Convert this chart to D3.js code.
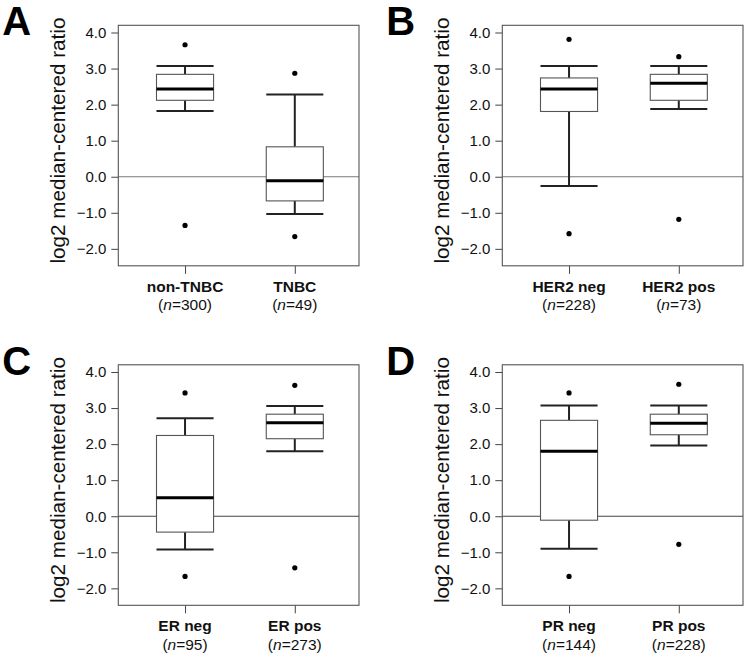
<!DOCTYPE html>
<html>
<head>
<meta charset="utf-8">
<script src="https://cdn.jsdelivr.net/npm/d3@7"></script>
<style>
  html, body { margin: 0; padding: 0; background: #fff; }
  svg { display: block; }
  text { font-family: "Liberation Sans", Arial, sans-serif; }
</style>
</head>
<body>
<div id="chart"></div>
<script>
// ---- data ----
const panelLetters = ["A", "B", "C", "D"];
const categories = [
  ["non-TNBC", "TNBC"],
  ["HER2 neg", "HER2 pos"],
  ["ER neg", "ER pos"],
  ["PR neg", "PR pos"]
];
const sampleSizes = [[300, 49], [228, 73], [95, 273], [144, 228]];
const upperOutlier = [[3.66, 2.87], [3.81, 3.33], [3.42, 3.63], [3.42, 3.66]];
const upperWhisker = [[3.07, 2.28], [3.07, 3.07], [2.72, 3.06], [3.07, 3.07]];
const q3Values     = [[2.84, 0.83], [2.74, 2.84], [2.24, 2.83], [2.66, 2.83]];
const medianValues = [[2.43, -0.11], [2.43, 2.59], [0.51, 2.59], [1.80, 2.58]];
const q1Values     = [[2.12, -0.67], [1.81, 2.12], [-0.44, 2.15], [-0.11, 2.26]];
const lowerWhisker = [[1.82, -1.03], [-0.26, 1.88], [-0.92, 1.80], [-0.90, 1.96]];
const lowerOutlier = [[-1.35, -1.66], [-1.58, -1.18], [-1.67, -1.43], [-1.67, -0.78]];
const yTicks = [-2, -1, 0, 1, 2, 3, 4];
const yLabel = "log2 median-centered ratio";

// ---- layout ----
const W = 747, H = 657;
const plotW = 240.7, plotH = 240.5;
const origins = [[118.3, 25.3], [502.3, 25.3], [118.3, 364.8], [502.3, 364.8]];
const zeroColor = ["#777", "#777", "#444", "#444"];

const svg = d3.select("#chart").append("svg")
  .attr("width", W).attr("height", H)
  .attr("viewBox", `0 0 ${W} ${H}`);
svg.append("rect").attr("width", W).attr("height", H).attr("fill", "#fff");

const y = d3.scaleLinear().domain([-2.47, 4.2]).range([plotH, 0]);
const x = d3.scaleLinear().domain([0.392, 2.585]).range([0, plotW]);
const boxW = x(1.26) - x(0.74);

panelLetters.forEach((letter, p) => {
  const [ox, oy] = origins[p];
  const g = svg.append("g").attr("transform", `translate(${ox},${oy})`);

  // panel letter
  svg.append("text")
    .attr("x", ox - 116).attr("y", oy + 10)
    .attr("font-size", 40).attr("font-weight", "bold")
    .attr("fill", "#000")
    .text(letter);

  // y-axis label
  g.append("text")
    .attr("transform", `translate(-53,${plotH / 2 - 5}) rotate(-90)`)
    .attr("text-anchor", "middle")
    .attr("font-size", 20.5)
    .attr("textLength", 246)
    .attr("lengthAdjust", "spacingAndGlyphs")
    .attr("fill", "#111")
    .text(yLabel);

  // y axis
  const yAxis = d3.axisLeft(y).tickValues(yTicks).tickFormat(d3.format(".1f"))
    .tickSize(7).tickPadding(5);
  const ya = g.append("g").call(yAxis);
  ya.select(".domain").remove();
  ya.selectAll(".tick line").attr("stroke", "#444");
  ya.selectAll(".tick text").attr("font-size", 15).attr("fill", "#111")
    .attr("font-family", "'Liberation Sans', Arial, sans-serif");

  // x axis ticks
  const xAxis = d3.axisBottom(x).tickValues([1, 2]).tickFormat("").tickSize(8);
  const xa = g.append("g").attr("transform", `translate(0,${plotH})`).call(xAxis);
  xa.select(".domain").remove();
  xa.selectAll(".tick line").attr("stroke", "#444");

  // category labels
  categories[p].forEach((c, i) => {
    g.append("text")
      .attr("x", x(i + 1)).attr("y", plotH + 26)
      .attr("text-anchor", "middle").attr("font-size", 15.5)
      .attr("font-weight", "bold").attr("fill", "#111")
      .text(c);
    const t2 = g.append("text")
      .attr("x", x(i + 1)).attr("y", plotH + 44.5)
      .attr("text-anchor", "middle").attr("font-size", 15.5)
      .attr("fill", "#111");
    t2.append("tspan").text("(");
    t2.append("tspan").attr("font-style", "italic").text("n");
    t2.append("tspan").text("=" + sampleSizes[p][i] + ")");
  });

  // zero line
  g.append("line")
    .attr("x1", 0).attr("x2", plotW)
    .attr("y1", y(0)).attr("y2", y(0))
    .attr("stroke", zeroColor[p]).attr("stroke-width", 1.2);

  // boxes
  [0, 1].forEach(i => {
    const cx = x(i + 1);
    const bg = g.append("g");
    bg.append("line").attr("x1", cx).attr("x2", cx)
      .attr("y1", y(q3Values[p][i])).attr("y2", y(upperWhisker[p][i]))
      .attr("stroke", "#222").attr("stroke-width", 2);
    bg.append("line").attr("x1", cx).attr("x2", cx)
      .attr("y1", y(q1Values[p][i])).attr("y2", y(lowerWhisker[p][i]))
      .attr("stroke", "#222").attr("stroke-width", 2);
    [upperWhisker[p][i], lowerWhisker[p][i]].forEach(v => {
      bg.append("line").attr("x1", cx - boxW / 2).attr("x2", cx + boxW / 2)
        .attr("y1", y(v)).attr("y2", y(v))
        .attr("stroke", "#222").attr("stroke-width", 2);
    });
    bg.append("rect")
      .attr("x", cx - boxW / 2).attr("width", boxW)
      .attr("y", y(q3Values[p][i]))
      .attr("height", y(q1Values[p][i]) - y(q3Values[p][i]))
      .attr("fill", "#fff").attr("stroke", "#555").attr("stroke-width", 1.1);
    bg.append("line").attr("x1", cx - boxW / 2).attr("x2", cx + boxW / 2)
      .attr("y1", y(medianValues[p][i])).attr("y2", y(medianValues[p][i]))
      .attr("stroke", "#000").attr("stroke-width", 3);
    [upperOutlier[p][i], lowerOutlier[p][i]].forEach(v => {
      bg.append("circle").attr("cx", cx).attr("cy", y(v)).attr("r", 2.6)
        .attr("fill", "#000");
    });
  });

  // frame
  g.append("rect").attr("x", 0).attr("y", 0)
    .attr("width", plotW).attr("height", plotH)
    .attr("fill", "none").attr("stroke", "#555").attr("stroke-width", 1.1);
});
</script>
</body>
</html>
